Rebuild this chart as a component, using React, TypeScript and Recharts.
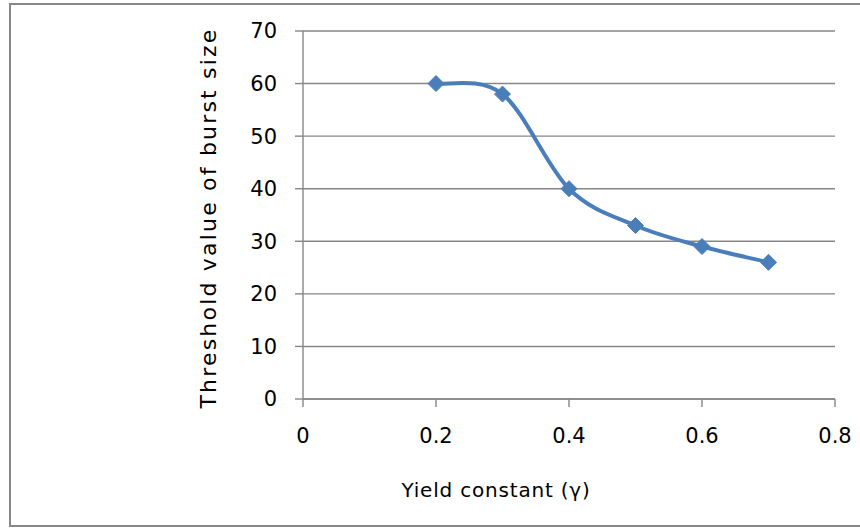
import React from 'react';
import { LineChart, Line, XAxis, YAxis, CartesianGrid, Label } from 'recharts';

const yieldConstants = [0.2, 0.3, 0.4, 0.5, 0.6, 0.7];
const burstThresholds = [60, 58, 40, 33, 29, 26];
const xTicks = [0, 0.2, 0.4, 0.6, 0.8];
const yTicks = [0, 10, 20, 30, 40, 50, 60, 70];

const data = yieldConstants.map((g, i) => ({ gamma: g, threshold: burstThresholds[i] }));

const BLUE = '#4a7ebb';
const GREY = '#878787';
const FONT = '"DejaVu Sans", sans-serif';

// Excel-style smoothed line: cubic bezier through every point (Catmull-Rom, 1/6 handles)
const smoothCurve = (context: any) => {
    let pts: number[][] = [];
    return {
        areaStart() {},
        areaEnd() {},
        lineStart() {
            pts = [];
        },
        point(x: number, y: number) {
            pts.push([+x, +y]);
        },
        lineEnd() {
            if (!pts.length) return;
            context.moveTo(pts[0][0], pts[0][1]);
            for (let i = 0; i < pts.length - 1; i++) {
                const p0 = pts[Math.max(i - 1, 0)];
                const p1 = pts[i];
                const p2 = pts[i + 1];
                const p3 = pts[Math.min(i + 2, pts.length - 1)];
                context.bezierCurveTo(
                    p1[0] + (p2[0] - p0[0]) / 6,
                    p1[1] + (p2[1] - p0[1]) / 6,
                    p2[0] - (p3[0] - p1[0]) / 6,
                    p2[1] - (p3[1] - p1[1]) / 6,
                    p2[0],
                    p2[1]
                );
            }
        },
    };
};

const Diamond = (props: any) => {
    const { cx, cy } = props;
    if (cx == null || cy == null) return null;
    const r = 8;
    return (
        <polygon
            points={`${cx},${cy - r} ${cx + r},${cy} ${cx},${cy + r} ${cx - r},${cy}`}
            fill={BLUE}
            stroke={BLUE}
            strokeWidth={1}
        />
    );
};

const YTitle = ({ viewBox }: any) => {
    const x = viewBox.x + viewBox.width - 87;
    const y = viewBox.y + viewBox.height / 2 + 3;
    return (
        <text
            x={x}
            y={y}
            transform={`rotate(-90 ${x} ${y})`}
            textAnchor="middle"
            fontFamily={FONT}
            fontSize={22}
            letterSpacing={2.2}
            fill="#000"
        >
            Threshold value of burst size
        </text>
    );
};

const XTitle = ({ viewBox }: any) => {
    const x = viewBox.x + viewBox.width / 2 - 73;
    const y = viewBox.y + 98;
    return (
        <text x={x} y={y} textAnchor="middle" fontFamily={FONT} fontSize={20} letterSpacing={0.8} fill="#000">
            Yield constant (γ)
        </text>
    );
};

const App: React.FC = () => {
    return (
        <div style={{ position: 'absolute', left: 0, top: 0, width: 860, height: 529, background: '#fff', overflow: 'hidden' }}>
            <div
                style={{
                    position: 'absolute',
                    left: 9,
                    top: 3,
                    width: 900,
                    height: 520,
                    borderLeft: `2px solid ${GREY}`,
                    borderTop: `2px solid ${GREY}`,
                    borderBottom: `2px solid ${GREY}`,
                }}
            />
            <LineChart
                width={860}
                height={529}
                data={data}
                margin={{ top: 31, right: 25, left: 0, bottom: 0 }}
                style={{ position: 'absolute', left: 0, top: 0 }}
            >
                <CartesianGrid vertical={false} stroke={GREY} strokeWidth={1.4} />
                <XAxis
                    dataKey="gamma"
                    type="number"
                    domain={[0, 0.8]}
                    ticks={xTicks}
                    height={130}
                    tickSize={8}
                    tickMargin={21}
                    stroke={GREY}
                    strokeWidth={1.4}
                    tick={{ fill: '#000', fontSize: 21, fontFamily: FONT }}
                    tickFormatter={(v: number) => String(v)}
                >
                    <Label content={<XTitle />} />
                </XAxis>
                <YAxis
                    type="number"
                    domain={[0, 70]}
                    ticks={yTicks}
                    width={303}
                    tickSize={8}
                    tickMargin={18}
                    stroke={GREY}
                    strokeWidth={1.4}
                    tick={{ fill: '#000', fontSize: 21, fontFamily: FONT }}
                >
                    <Label content={<YTitle />} />
                </YAxis>
                <Line
                    dataKey="threshold"
                    type={smoothCurve as any}
                    stroke={BLUE}
                    strokeWidth={4}
                    dot={<Diamond />}
                    activeDot={false}
                    isAnimationActive={false}
                />
            </LineChart>
        </div>
    );
};

export default App;
